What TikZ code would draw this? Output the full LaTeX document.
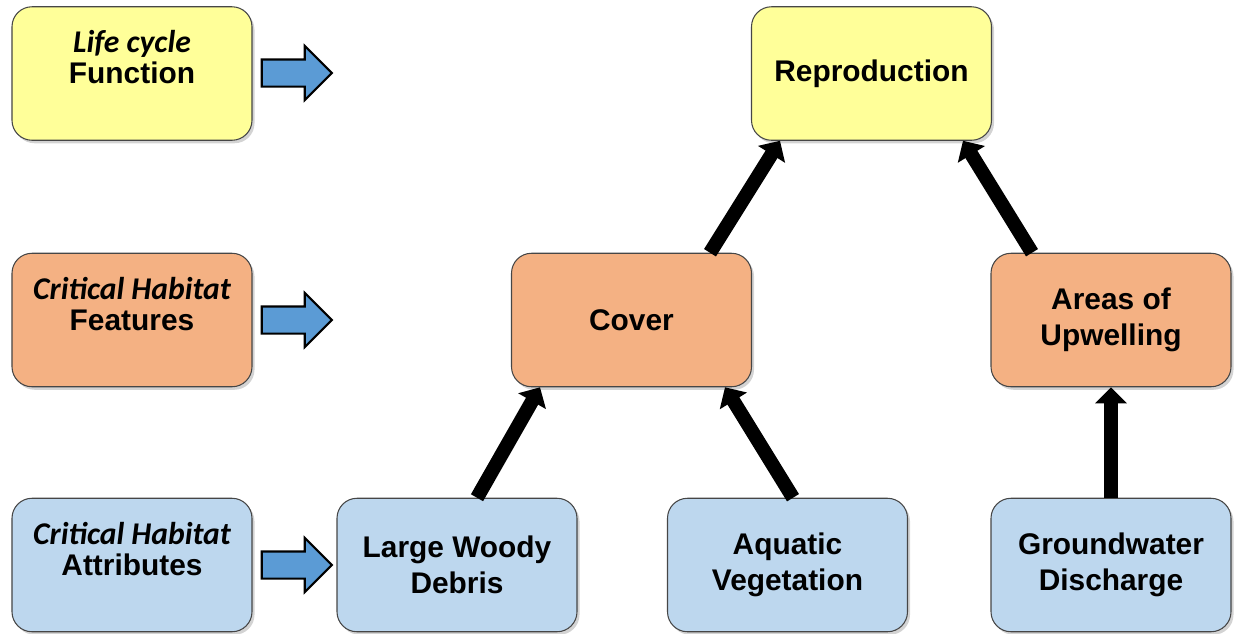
\documentclass[tikz,border=0pt]{standalone}
\usepackage{fontspec}
\setmainfont{Liberation Sans}
\newfontfamily\habfont{Carlito}
\usetikzlibrary{shapes.arrows,shadows,arrows.meta}
\definecolor{lifeyellow}{RGB}{255,255,153}
\definecolor{featorange}{RGB}{244,177,131}
\definecolor{attrblue}{RGB}{189,215,238}
\definecolor{arrowblue}{RGB}{91,155,213}
\definecolor{boxedge}{RGB}{70,70,70}
\newcommand{\lefttext}[2]{\raisebox{0.25cm}[\height][\depth]{\begin{tabular}{@{}c@{}}{\habfont\itshape\fontsize{18}{20}\selectfont #1}\\[-3pt]#2\end{tabular}}}
\begin{document}
\begin{tikzpicture}[
  habbox/.style={rectangle, rounded corners=0.4cm, draw=boxedge, line width=0.6pt,
    minimum width=4.8cm, minimum height=2.67cm, align=center,
    font=\bfseries\fontsize{17}{20.5}\selectfont,
    drop shadow={shadow xshift=0.05cm, shadow yshift=-0.06cm, opacity=0.35}},
  lifebox/.style={habbox, fill=lifeyellow},
  featbox/.style={habbox, fill=featorange},
  attrbox/.style={habbox, fill=attrblue},
  levelarrow/.style={single arrow, draw=black, line width=1.2pt, fill=arrowblue,
    minimum height=1.4cm, inner xsep=0pt, inner ysep=0.25cm,
    text height=0pt, text depth=0pt, single arrow head extend=0.27cm},
  linkarrow/.style={line width=0.28cm, -{Triangle[length=0.32cm, width=0.62cm]}}]
  \useasboundingbox (0,0) rectangle (24.76,-12.66);
  % left column
  \node[lifebox] (life) at (2.64,-1.47) {\lefttext{Life cycle}{Function}};
  \node[featbox] (feat) at (2.64,-6.40) {\lefttext{Critical Habitat}{Features}};
  \node[attrbox] (attr) at (2.64,-11.30) {\lefttext{Critical Habitat}{Attributes}};
  \node[levelarrow] (lifearrow) at (5.80,-1.46) {};
  \node[levelarrow] (featarrow) at (5.80,-6.40) {};
  \node[levelarrow] (attrarrow) at (5.80,-11.30) {};
  % diagram
  \node[lifebox] (repro) at (17.43,-1.47) {Reproduction};
  \node[featbox] (cover) at (12.63,-6.40) {Cover};
  \node[featbox] (upwell) at (22.22,-6.40) {Areas of\\Upwelling};
  \node[attrbox] (woody) at (9.14,-11.30) {Large Woody\\Debris};
  \node[attrbox] (veg) at (15.75,-11.30) {Aquatic\\Vegetation};
  \node[attrbox] (ground) at (22.22,-11.30) {Groundwater\\Discharge};
  % Lines
  \draw[linkarrow] ([xshift=1.57cm]cover.north) -- ([xshift=-1.83cm]repro.south);
  \draw[linkarrow] ([xshift=-1.58cm]upwell.north) -- ([xshift=1.83cm]repro.south);
  \draw[linkarrow] ([xshift=0.4cm]woody.north) -- ([xshift=-1.83cm]cover.south);
  \draw[linkarrow] ([xshift=0.11cm]veg.north) -- ([xshift=1.87cm]cover.south);
  \draw[linkarrow] (ground) -- (upwell);
\end{tikzpicture}
\end{document}
